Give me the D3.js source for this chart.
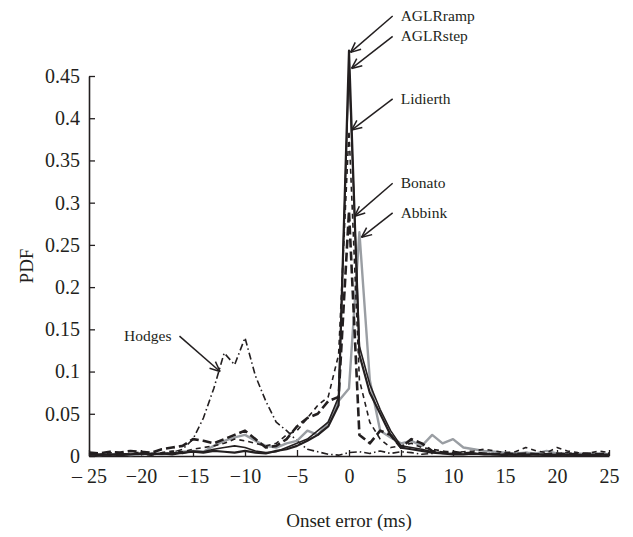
<!DOCTYPE html>
<html><head><meta charset="utf-8">
<script src="https://cdn.jsdelivr.net/npm/d3@7"></script>
<style>body{margin:0;background:#fff}svg{display:block}text{font-family:"Liberation Serif","Times New Roman",serif;fill:#231f20}</style>
</head><body><svg id="c" width="633" height="537"></svg>
<script>
const xValues = [-25,-24,-23,-22,-21,-20,-19,-18,-17,-16,-15,-14,-13,-12,-11,-10,-9,-8,-7,-6,-5,-4,-3,-2,-1,0,1,2,3,4,5,6,7,8,9,10,11,12,13,14,15,16,17,18,19,20,21,22,23,24,25];
const xTicks = [-25,-20,-15,-10,-5,0,5,10,15,20,25];
const xTickLabels = ["\u2013 25","\u221220","\u221215","\u221210","\u22125","0","5","10","15","20","25"];
const yTicks = [0,0.05,0.1,0.15,0.2,0.25,0.3,0.35,0.4,0.45];
const yTickLabels = ["0","0.05","0.1","0.15","0.2","0.25","0.3","0.35","0.4","0.45"];

const aglrRamp = [0.002,0.001,0.002,0.001,0.002,0.003,0.002,0.003,0.002,0.004,0.005,0.004,0.006,0.005,0.004,0.006,0.004,0.003,0.006,0.008,0.012,0.018,0.025,0.035,0.06,0.48,0.12,0.075,0.05,0.025,0.01,0.008,0.006,0.004,0.003,0.002,0.002,0.003,0.002,0.002,0.001,0.002,0.001,0.002,0.001,0.001,0.002,0.001,0.001,0.002,0.001];
const aglrStep = [0.001,0.002,0.001,0.003,0.002,0.002,0.003,0.002,0.004,0.003,0.006,0.005,0.008,0.01,0.012,0.01,0.006,0.004,0.005,0.01,0.015,0.02,0.03,0.04,0.07,0.46,0.13,0.085,0.055,0.03,0.012,0.01,0.008,0.005,0.003,0.003,0.002,0.002,0.003,0.002,0.002,0.001,0.002,0.002,0.001,0.002,0.001,0.002,0.001,0.001,0.002];
const lidierth = [0.003,0.002,0.004,0.003,0.002,0.005,0.003,0.004,0.006,0.005,0.008,0.01,0.012,0.015,0.02,0.018,0.015,0.012,0.015,0.025,0.03,0.045,0.06,0.07,0.12,0.385,0.09,0.04,0.02,0.01,0.012,0.015,0.01,0.008,0.006,0.004,0.005,0.006,0.008,0.006,0.004,0.005,0.01,0.006,0.004,0.01,0.006,0.004,0.003,0.006,0.004];
const bonato = [0.004,0.003,0.005,0.004,0.006,0.005,0.004,0.008,0.01,0.012,0.02,0.018,0.015,0.02,0.025,0.03,0.02,0.01,0.012,0.02,0.035,0.045,0.05,0.065,0.07,0.29,0.025,0.015,0.03,0.025,0.01,0.02,0.015,0.006,0.004,0.005,0.003,0.004,0.003,0.002,0.003,0.002,0.003,0.002,0.002,0.003,0.002,0.002,0.003,0.002,0.003];
const abbink = [0.002,0.001,0.002,0.002,0.001,0.002,0.003,0.002,0.003,0.005,0.006,0.005,0.012,0.018,0.022,0.025,0.018,0.012,0.01,0.015,0.018,0.03,0.025,0.04,0.065,0.08,0.265,0.09,0.03,0.022,0.015,0.018,0.012,0.025,0.015,0.02,0.01,0.008,0.006,0.005,0.004,0.003,0.004,0.003,0.006,0.003,0.002,0.003,0.002,0.003,0.002];
const hodges = [0.002,0.001,0.001,0.002,0.001,0.002,0.001,0.003,0.004,0.008,0.02,0.045,0.08,0.122,0.108,0.14,0.095,0.065,0.04,0.03,0.018,0.008,0.005,0.002,0.001,0.004,0.005,0.003,0.006,0.003,0.005,0.004,0.002,0.003,0.005,0.002,0.004,0.003,0.002,0.004,0.003,0.002,0.004,0.003,0.002,0.003,0.004,0.002,0.003,0.002,0.003];

const seriesNames = ["Hodges","Abbink","Bonato","Lidierth","AGLRstep","AGLRramp"];
const seriesValues = [hodges, abbink, bonato, lidierth, aglrStep, aglrRamp];
const seriesColors = ["#231f20","#9a9ea3","#231f20","#231f20","#231f20","#231f20"];
const seriesWidths = [1.6,2.4,2.6,1.6,1.6,2.2];
const seriesDash = ["7,3,1.5,3","none","9,4","5,4","none","none"];

// annotations: label, arrow tip and tail in data units
const annLabels = ["AGLRramp","AGLRstep","Lidierth","Bonato","Abbink","Hodges"];
const annTips = [[0.15,0.478],[0.25,0.459],[0.25,0.386],[0.55,0.284],[1.2,0.259],[-12.4,0.10]];
const annTails = [[4.2,0.521],[4.2,0.497],[4.2,0.423],[4.2,0.323],[4.2,0.288],[-16.3,0.142]];

const svg = d3.select("#c");
const x = d3.scaleLinear().domain([-25,25]).range([89,609]);
const y = d3.scaleLinear().domain([0,0.45]).range([456,76]);

const gx = svg.append("g").attr("transform","translate(0,"+y(0)+")")
  .call(d3.axisBottom(x).tickValues(xTicks).tickSizeInner(-6).tickSizeOuter(0).tickPadding(13).tickFormat((d,i)=>xTickLabels[i]));
const gy = svg.append("g").attr("transform","translate("+x(-25)+",0)")
  .call(d3.axisLeft(y).tickValues(yTicks).tickSizeInner(-6).tickSizeOuter(0).tickPadding(9).tickFormat((d,i)=>yTickLabels[i]));
[gx,gy].forEach(g=>{
  g.select(".domain").attr("stroke","#231f20").attr("stroke-width",1.6);
  g.selectAll(".tick line").attr("stroke","#231f20").attr("stroke-width",1.3);
  g.selectAll(".tick text").attr("font-size",20).attr("font-family","Liberation Serif, serif").attr("fill","#231f20");
});

const line = d3.line().x((d,i)=>x(xValues[i])).y(d=>y(d));
seriesValues.forEach((vals,k)=>{
  svg.append("path").datum(vals).attr("d",line).attr("fill","none")
    .attr("stroke",seriesColors[k]).attr("stroke-width",seriesWidths[k])
    .attr("stroke-dasharray",seriesDash[k]).attr("stroke-linejoin","round");
});

annLabels.forEach((lab,k)=>{
  const tx=x(annTips[k][0]), ty=y(annTips[k][1]);
  const sx=x(annTails[k][0]), sy=y(annTails[k][1]);
  svg.append("line").attr("x1",sx).attr("y1",sy).attr("x2",tx).attr("y2",ty).attr("stroke","#231f20").attr("stroke-width",1.5);
  const ang=Math.atan2(sy-ty,sx-tx), L=11, a=0.42;
  [ang+a,ang-a].forEach(b=>{
    svg.append("line").attr("x1",tx).attr("y1",ty).attr("x2",tx+L*Math.cos(b)).attr("y2",ty+L*Math.sin(b)).attr("stroke","#231f20").attr("stroke-width",1.5);
  });
  const right = sx < tx;
  svg.append("text").attr("x", right? sx-8 : sx+8).attr("y", sy).attr("dy","0.32em")
    .attr("text-anchor", right? "end":"start").attr("font-size",15.5).text(lab);
});

svg.append("text").attr("x",(x(-25)+x(25))/2).attr("y",521).attr("dy","0.32em").attr("text-anchor","middle").attr("font-size",19).text("Onset error (ms)");
svg.append("text").attr("transform","translate(27,"+y(0.225)+") rotate(-90)").attr("dy","0.32em").attr("text-anchor","middle").attr("font-size",19).text("PDF");
</script></body></html>
